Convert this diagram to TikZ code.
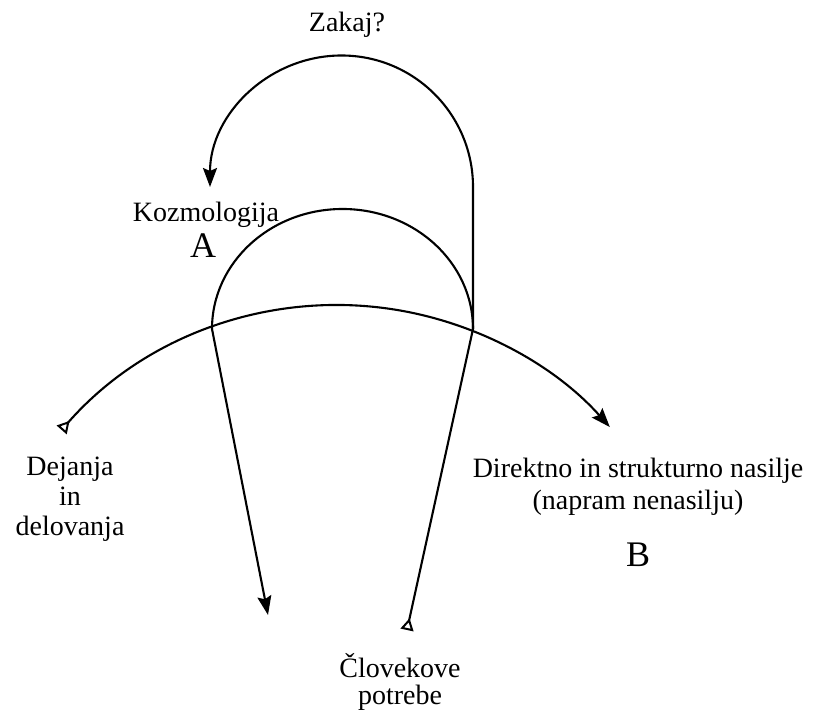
\documentclass[tikz,border=0pt]{standalone}
\usepackage{fontspec}
\setmainfont{Liberation Serif}
\usetikzlibrary{arrows.meta}
\begin{document}
\begin{tikzpicture}[x=1pt,y=1pt,
  curve/.style={line width=2.1pt},
  filltip/.style={-{Stealth[length=19pt,width=14pt,inset=3pt]}},
  opentip/.style={-{Triangle[open,reversed,length=12pt,width=13pt,line width=2pt]}},
  lbl/.style={inner sep=0pt, anchor=base, font=\fontsize{28}{32}\selectfont},
  biglbl/.style={inner sep=0pt, anchor=base, font=\fontsize{36}{40}\selectfont}]
\useasboundingbox (0,0) rectangle (814,711);
% big arc
\coordinate (C1) at (337,40);
\coordinate (Ls) at ([shift={(138.8:366)}]C1);
\draw[curve, {Triangle[open,reversed,length=12pt,width=13pt,line width=2pt]}-{Stealth[length=19pt,width=14pt,inset=3pt]}]
  (Ls) arc[start angle=138.8, end angle=41.8, radius=366];
% dome
\coordinate (P) at (212,382);
\coordinate (Q) at (473,382);
\draw[curve] (P) arc[start angle=180, end angle=0, x radius=130.5, y radius=120];
% lines down
\coordinate (D1) at (268,96);
\coordinate (D2) at (407,81);
\draw[curve, filltip] (P) -- (D1);
\draw[curve, opentip] (Q) -- (D2);
% top loop
\coordinate (T) at (473,524);
\draw[curve, filltip] (Q) -- (T) arc[start angle=0, end angle=180, radius=131.5];
% labels
\node[lbl] (zakaj) at (347,679) {Zakaj?};
\node[lbl] (kozmo) at (206,489) {Kozmologija};
\node[biglbl] (A) at (203,453) {A};
\node[lbl] (dej1) at (70,235) {Dejanja};
\node[lbl] (dej2) at (70,205) {in};
\node[lbl] (dej3) at (70,175) {delovanja};
\node[lbl] (dir1) at (638,233) {Direktno in strukturno nasilje};
\node[lbl] (dir2) at (638,201) {(napram nenasilju)};
\node[biglbl] (B) at (638,144) {B};
\node[lbl] (clo1) at (400,33) {Človekove};
\node[lbl] (clo2) at (400,6) {potrebe};
\end{tikzpicture}
\end{document}
